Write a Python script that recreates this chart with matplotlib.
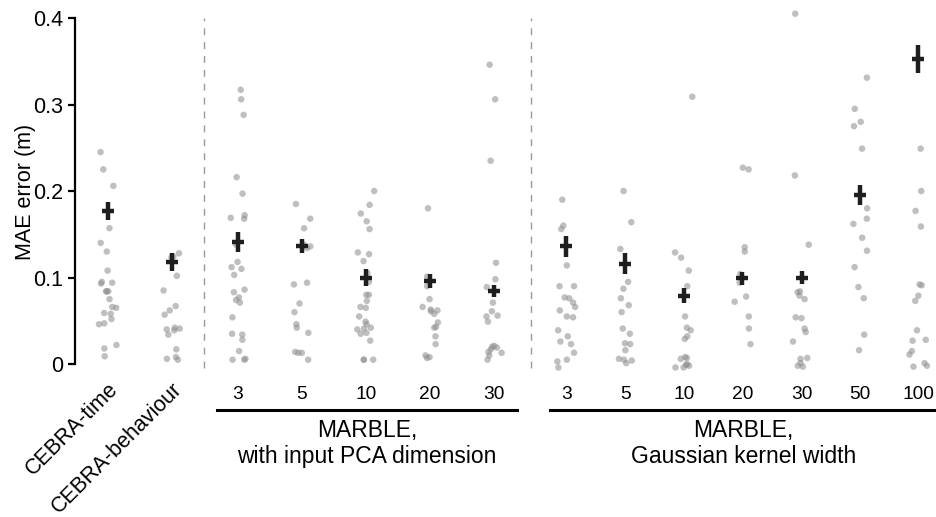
import numpy as np
import matplotlib
matplotlib.use("Agg")
import matplotlib.pyplot as plt
from matplotlib.transforms import blended_transform_factory

plt.rcParams['font.family'] = ['Liberation Sans', 'DejaVu Sans']

# ---- data ----
labels = ["CEBRA-time", "CEBRA-behaviour",
          "3", "5", "10", "20", "30",
          "3", "5", "10", "20", "30", "50", "100"]

cebra_time = [0.245, 0.225, 0.206, 0.157, 0.140, 0.130, 0.108, 0.095, 0.094, 0.093,
              0.084, 0.084, 0.084, 0.075, 0.066, 0.065, 0.059, 0.058, 0.052, 0.047,
              0.046, 0.022, 0.018, 0.009]
cebra_behaviour = [0.128, 0.124, 0.123, 0.102, 0.085, 0.067, 0.062, 0.057, 0.042, 0.041,
                   0.040, 0.039, 0.034, 0.017, 0.008, 0.006, 0.005]

pca_3 = [0.317, 0.306, 0.288, 0.216, 0.197, 0.172, 0.169, 0.168, 0.138, 0.118, 0.112,
         0.110, 0.103, 0.086, 0.083, 0.077, 0.074, 0.071, 0.054, 0.035, 0.034, 0.028,
         0.015, 0.006, 0.005, 0.005]
pca_5 = [0.185, 0.168, 0.157, 0.138, 0.136, 0.134, 0.094, 0.092, 0.070, 0.060, 0.046,
         0.042, 0.036, 0.014, 0.013, 0.013, 0.005]
pca_10 = [0.200, 0.184, 0.174, 0.165, 0.156, 0.129, 0.127, 0.119, 0.105, 0.095, 0.080,
          0.080, 0.073, 0.066, 0.065, 0.055, 0.049, 0.046, 0.042, 0.041, 0.040, 0.036,
          0.035, 0.027, 0.005, 0.005, 0.005]
pca_20 = [0.180, 0.101, 0.090, 0.075, 0.066, 0.063, 0.062, 0.061, 0.058, 0.048, 0.043,
          0.042, 0.032, 0.023, 0.010, 0.008, 0.007]
pca_30 = [0.346, 0.306, 0.235, 0.117, 0.098, 0.089, 0.071, 0.061, 0.056, 0.055, 0.049,
          0.021, 0.020, 0.019, 0.017, 0.014, 0.013, 0.010, 0.005]

kw_3 = [0.190, 0.160, 0.156, 0.114, 0.090, 0.090, 0.077, 0.076, 0.071, 0.066, 0.062,
        0.055, 0.054, 0.039, 0.032, 0.026, 0.023, 0.013, 0.005, 0.003, -0.004]
kw_5 = [0.200, 0.164, 0.133, 0.095, 0.087, 0.076, 0.068, 0.060, 0.041, 0.035, 0.024,
        0.023, 0.016, 0.006, 0.005, 0.004, 0.001]
kw_10 = [0.309, 0.129, 0.123, 0.108, 0.090, 0.055, 0.042, 0.039, 0.032, 0.029, 0.008,
         0.007, 0.006, 0.000, -0.001, -0.002, -0.004, -0.004]
kw_20 = [0.227, 0.225, 0.135, 0.130, 0.104, 0.094, 0.078, 0.072, 0.055, 0.041, 0.023]
kw_30 = [0.405, 0.218, 0.138, 0.084, 0.083, 0.079, 0.075, 0.054, 0.053, 0.041, 0.037,
         0.026, 0.007, 0.006, 0.001, -0.003, -0.002]
kw_50 = [0.331, 0.295, 0.280, 0.275, 0.249, 0.180, 0.168, 0.162, 0.146, 0.131, 0.112,
         0.089, 0.076, 0.034, 0.016]
kw_100 = [0.249, 0.200, 0.177, 0.159, 0.092, 0.091, 0.079, 0.073, 0.039, 0.028, 0.027,
          0.015, 0.011, 0.001, -0.002, -0.003]

means = [0.177, 0.118, 0.141, 0.136, 0.100, 0.096, 0.084,
         0.136, 0.116, 0.079, 0.099, 0.100, 0.195, 0.353]
errs = [0.010, 0.010, 0.012, 0.008, 0.0095, 0.0085, 0.007,
        0.0125, 0.012, 0.009, 0.0075, 0.007, 0.0115, 0.016]

groups = [cebra_time, cebra_behaviour, pca_3, pca_5, pca_10, pca_20, pca_30,
          kw_3, kw_5, kw_10, kw_20, kw_30, kw_50, kw_100]

# ---- layout ----
xpos = [0, 1, 2.03, 3.03, 4.03, 5.03, 6.03, 7.16, 8.08, 9.0, 9.91, 10.84, 11.75, 12.66]

fig = plt.figure(figsize=(9.36, 5.17), dpi=100)
ax = fig.add_axes([0.0798, 0.2758, 0.921, 0.7061])

rng = np.random.default_rng(3)  # horizontal jitter only
for x, vals in zip(xpos, groups):
    jit = rng.uniform(-0.14, 0.14, len(vals))
    ax.scatter(x + jit, vals, s=22, color='#8c8c8c', alpha=0.55,
               edgecolors='none', zorder=2)

ax.errorbar(xpos, means, yerr=errs, xerr=0.095, fmt='none',
            ecolor='#1e1e1e', elinewidth=3.2, capsize=0, zorder=3)

for xv in [1.5, 6.61]:
    ax.vlines(xv, -0.005, 0.4, colors='#999999', linestyles=(0, (5, 5)),
              linewidth=1, zorder=1)

ax.set_xlim(-0.52, 12.95)
ax.set_ylim(-0.012, 0.41)
ax.set_yticks([0, 0.1, 0.2, 0.3, 0.4])
ax.set_yticklabels(["0", "0.1", "0.2", "0.3", "0.4"])
ax.spines['left'].set_bounds(0, 0.4)
ax.spines['left'].set_linewidth(1.6)
for s in ['top', 'right', 'bottom']:
    ax.spines[s].set_visible(False)
ax.tick_params(axis='y', labelsize=15.5, width=1.6, length=5, pad=3)
ax.tick_params(axis='x', length=0, labelsize=13.8, pad=8)
ax.set_ylabel("MAE error (m)", fontsize=15.5, labelpad=-2)

trans = blended_transform_factory(ax.transData, ax.transAxes)

# numeric ticks through the axis; the two CEBRA names drawn rotated by hand
ax.set_xticks(xpos)
ax.set_xticklabels([""] * 2 + labels[2:])
for x, name in zip(xpos[:2], labels[:2]):
    ax.text(x, -0.012, name, transform=trans, rotation=45, ha='right', va='top',
            rotation_mode='anchor', fontsize=15.5)

# group underlines and titles
for x0, x1, title in [(1.70, 6.39, "MARBLE,\nwith input PCA dimension"),
                      (6.91, 12.95, "MARBLE,\nGaussian kernel width")]:
    ax.plot([x0, x1], [-0.0975, -0.0975], color='black', linewidth=2.2,
            transform=trans, clip_on=False)
    ax.text((x0 + x1) / 2, -0.122, title, transform=trans, ha='center', va='top',
            fontsize=16.5, linespacing=1.15)

fig.savefig("out.png", dpi=100)
